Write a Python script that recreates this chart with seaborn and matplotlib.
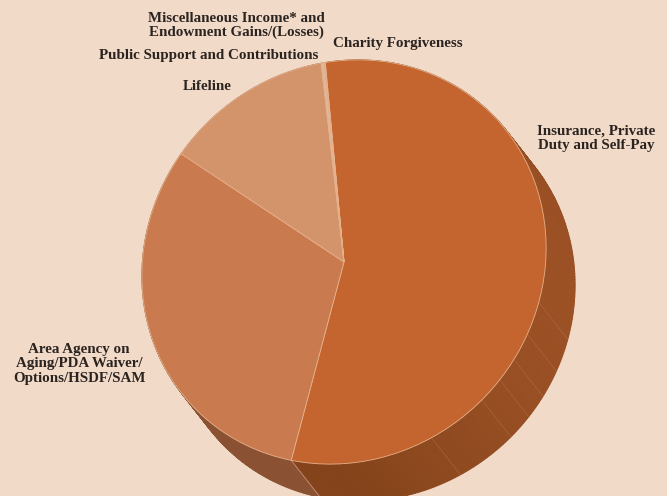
import numpy as np
import matplotlib
matplotlib.use("Agg")
import matplotlib.pyplot as plt
from matplotlib.transforms import Affine2D
import seaborn as sns

sns.set_theme(style="white")
plt.rcParams['font.family'] = ['Liberation Serif', 'DejaVu Serif']

# Data (percent shares)
categories = ["Insurance, Private\nDuty and Self-Pay",
              "Area Agency on\nAging/PDA Waiver/\nOptions/HSDF/SAM",
              "Lifeline",
              "Public Support and Contributions",
              "Miscellaneous Income* and\nEndowment Gains/(Losses)",
              "Charity Forgiveness"]
values = [55.7, 30.9, 13.1, 0.25, 0.04, 0.04]
colors = ["#c4652f", "#c97b4f", "#d3936b", "#dcb89e", "#cf8a5c", "#c87040"]
side_dark = ["#84431a", "#8a5232", "#9a6242", "#a08070", "#9a7050", "#8c4619"]
side_light = ["#9c5125", "#8a5232", "#9a6242", "#a08070", "#9a7050", "#9c5125"]

BG = "#f1dac8"
W, H = 667, 496
fig = plt.figure(figsize=(W / 100, H / 100), dpi=100, facecolor=BG)
ax = fig.add_axes([0, 0, 1, 1])
ax.set_facecolor(BG)

# tilted-disc geometry (pixels, y up)
cx, cy = 344, H - 262
a_ax, b_ax = 209, 195
M = np.array([[(a_ax + b_ax) / 2, (a_ax - b_ax) / 2],
              [(a_ax - b_ax) / 2, (a_ax + b_ax) / 2]])
dx, dy = 29, -37
disc = Affine2D(np.array([[M[0, 0], M[0, 1], cx],
                          [M[1, 0], M[1, 1], cy],
                          [0, 0, 1]]))

wedges, _ = ax.pie(values, colors=colors, startangle=97.3, counterclock=False,
                   center=(0, 0), radius=1, frame=True,
                   wedgeprops=dict(linewidth=0.6, edgecolor="#e6b08a", zorder=5))
for w in wedges:
    w.set_transform(disc + ax.transData)
ax.set_xlim(0, W)
ax.set_ylim(0, H)
ax.set_aspect('equal')
ax.axis('off')


def rim(theta_deg):
    t = np.deg2rad(theta_deg)
    p = M @ np.array([np.cos(t), np.sin(t)])
    return cx + p[0], cy + p[1]


def rgb(h):
    return np.array(matplotlib.colors.to_rgb(h))


# extruded side of the pie
for w, dk, lt in zip(wedges, side_dark, side_light):
    t1, t2 = w.theta1, w.theta2
    n = max(2, int((t2 - t1) / 0.8) + 1)
    ths = np.linspace(t1, t2, n)
    for a, b in zip(ths[:-1], ths[1:]):
        m = np.deg2rad((a + b) / 2)
        f = max(np.cos(m), 0)
        col = rgb(dk) + (rgb(lt) - rgb(dk)) * f
        x1, y1 = rim(a)
        x2, y2 = rim(b)
        ax.fill([x1, x2, x2 + dx, x1 + dx], [y1, y2, y2 + dy, y1 + dy],
                color=col, lw=0.7, ec=col, zorder=2)

# faint facet lines on the side
for t in [-13.5, -22.9, -30.8, -37.6, -45.0, -62.4]:
    x1, y1 = rim(t)
    ax.plot([x1, x1 + dx], [y1, y1 + dy], color="#b36d42", lw=0.5, alpha=0.7, zorder=3)
x1, y1 = rim(wedges[0].theta1)
ax.plot([x1, x1 + dx], [y1, y1 + dy], color="#c89070", lw=0.6, zorder=3)

tk = dict(fontsize=10.8, fontweight='bold', color="#2b2320", zorder=10)
ax.text(655, H - 138, categories[0], ha='right', va='center', linespacing=1.15, **tk)
ax.text(79, H - 364, categories[1], ha='center', va='center', linespacing=1.15, **tk)
ax.text(207, H - 87, categories[2], ha='center', va='center', **tk)
ax.text(209, H - 56, categories[3], ha='center', va='center', **tk)
ax.text(236, H - 25.5, categories[4], ha='center', va='center', linespacing=1.05, **tk)
ax.text(397.5, H - 44, categories[5], ha='center', va='center', **tk)

fig.savefig("out.png", dpi=100, facecolor=BG)
